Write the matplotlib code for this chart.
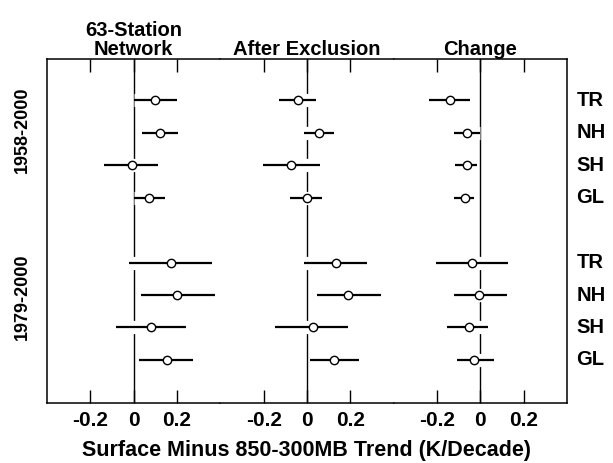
import matplotlib
matplotlib.use("Agg")
import matplotlib.pyplot as plt
import matplotlib.patheffects as pe

regions = ["TR", "NH", "SH", "GL"]
periods = ["1958-2000", "1979-2000"]
panel_titles = ["63-Station\nNetwork", "After Exclusion", "Change"]
tick_values = [-0.2, 0.0, 0.2]
tick_labels = ["-0.2", "0", "0.2"]

# trend estimates and their ranges, rows: 1958-2000 TR NH SH GL, 1979-2000 TR NH SH GL
network_mid = [0.10, 0.12, -0.01, 0.07, 0.17, 0.20, 0.08, 0.155]
network_lo = [0.00, 0.04, -0.135, 0.00, -0.02, 0.035, -0.08, 0.025]
network_hi = [0.20, 0.205, 0.11, 0.145, 0.36, 0.375, 0.24, 0.275]

exclusion_mid = [-0.04, 0.056, -0.072, 0.0, 0.132, 0.19, 0.026, 0.124]
exclusion_lo = [-0.13, -0.014, -0.203, -0.08, -0.016, 0.045, -0.15, 0.012]
exclusion_hi = [0.04, 0.126, 0.062, 0.07, 0.277, 0.34, 0.19, 0.24]

change_mid = [-0.14, -0.062, -0.06, -0.073, -0.04, -0.005, -0.053, -0.028]
change_lo = [-0.237, -0.12, -0.116, -0.12, -0.203, -0.12, -0.152, -0.108]
change_hi = [-0.05, 0.0, -0.014, -0.03, 0.126, 0.123, 0.037, 0.062]

panels = [
    (network_mid, network_lo, network_hi),
    (exclusion_mid, exclusion_lo, exclusion_hi),
    (change_mid, change_lo, change_hi),
]

plt.rcParams["font.family"] = ["Liberation Sans", "DejaVu Sans"]
plt.rcParams["font.weight"] = "bold"

fig, axes = plt.subplots(1, 3, figsize=(6.13, 4.63), dpi=100, sharey=True)
fig.subplots_adjust(left=0.0767, right=0.925, top=0.8726, bottom=0.1296, wspace=0)

# row positions: 4 regions per period, one empty row between periods
ypos = [p * (len(regions) + 1) + i for p in range(len(periods)) for i in range(len(regions))]

halo = [pe.withStroke(linewidth=9.5, foreground="white")]

for k, (ax, (mid, lo, hi)) in enumerate(zip(axes, panels)):
    ax.axvline(0, color="black", lw=1.0, zorder=1)
    ax.hlines(ypos, lo, hi, color="black", lw=1.6, zorder=2,
              path_effects=halo, capstyle="butt")
    ax.plot(mid, ypos, "o", ms=6, mfc="white", mec="black", mew=1.0, zorder=3)
    ax.set_xlim(-0.4, 0.4)
    ax.set_ylim(9.33, -1.28)
    ax.set_xticks(tick_values)
    ax.set_xticklabels(tick_labels, fontsize=15, fontweight="bold")
    ax.tick_params(axis="x", direction="in", top=True, length=9.5, width=1.0, pad=6)
    ax.tick_params(axis="y", left=False, right=False, labelleft=False)
    ax.set_title(panel_titles[k], fontsize=14.5, fontweight="bold", pad=3, linespacing=1.0)
    for s in ax.spines.values():
        s.set_linewidth(1.1)
    if k > 0:
        ax.spines["left"].set_visible(False)
    if k < 2:
        ax.spines["right"].set_visible(False)

for y, r in zip(ypos, regions * len(periods)):
    axes[2].text(1.055, y, r, transform=axes[2].get_yaxis_transform(),
                 fontsize=14.5, fontweight="bold", ha="left", va="center")

for y, p in zip([0.9, 6.05], periods):
    axes[0].text(-0.145, y, p, transform=axes[0].get_yaxis_transform(),
                 fontsize=13, fontweight="bold", rotation=90, ha="center", va="center")

fig.text(306 / 613, 0.026, "Surface Minus 850-300MB Trend (K/Decade)",
         fontsize=15.5, fontweight="bold", ha="center", va="center")

fig.savefig("out.png", dpi=100)
